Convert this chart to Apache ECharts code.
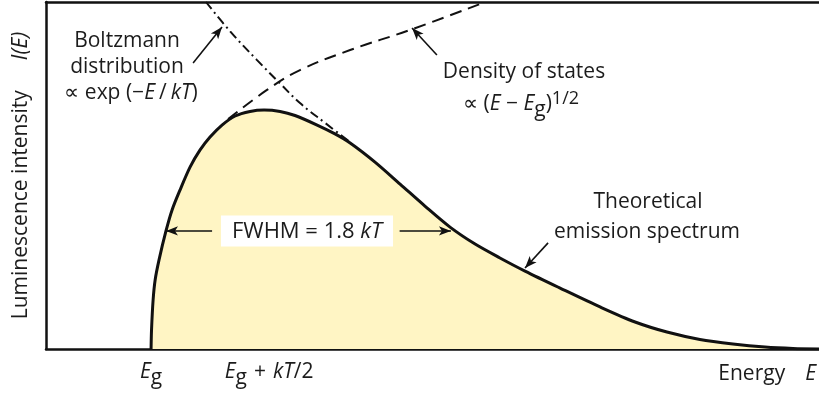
<!DOCTYPE html>
<html>
<head>
<meta charset="utf-8">
<script src="https://cdn.jsdelivr.net/npm/echarts@6/dist/echarts.min.js"></script>
<style>
  html, body { margin: 0; padding: 0; background: #fff; }
  #chart { width: 819px; height: 396px; }
</style>
</head>
<body>
<div id="chart"></div>
<script>
// Energy in units where E_g = 2 and kT = 1; intensity normalised to the peak.
const energy = [2.000, 2.002, 2.009, 2.018, 2.035, 2.066, 2.093, 2.128, 2.173, 2.217,
                2.261, 2.314, 2.372, 2.438, 2.500, 2.571, 2.637, 2.735, 2.814, 2.881,
                2.991, 3.102, 3.212, 3.323, 3.434, 3.544, 3.655, 3.810, 3.987, 4.142,
                4.283, 4.429, 4.575, 4.717, 4.841, 4.956];
const intensity = [0.000, 0.079, 0.205, 0.289, 0.372, 0.494, 0.582, 0.665, 0.762, 0.833,
                   0.887, 0.937, 0.975, 0.994, 1.000, 0.994, 0.977, 0.937, 0.900, 0.862,
                   0.782, 0.690, 0.598, 0.510, 0.439, 0.381, 0.326, 0.255, 0.176, 0.113,
                   0.071, 0.040, 0.021, 0.008, 0.002, 0.000];

// Density of states (dashed) and Boltzmann factor (dash-dot)
const dosEnergy = [2.341, 2.513, 2.659, 2.881, 3.146, 3.469];
const dosValue  = [0.962, 1.084, 1.167, 1.251, 1.335, 1.448];
const boltzEnergy = [2.243, 2.350, 2.469, 2.571, 2.659, 2.770, 2.881];
const boltzValue  = [1.452, 1.329, 1.209, 1.111, 1.029, 0.946, 0.866];

const Eg = 2.0;
const kT = 1.0;
const peakEnergy = Eg + kT / 2;
const peakIntensity = 1.0;
const tickValues = [Eg, peakEnergy];
const tickLabels = ['{e|E}{s|g}', '{lead|}{e|E}{s|g}{w|}{n|+}{w|}{e|kT}{n|/2}'];

// Half-maximum crossings of the emission curve
const halfMax = 0.494;
const fwhmLeft = 2.066;
const fwhmRight = 3.327;

// Annotation arrows: [fromEnergy, fromValue, toEnergy, toValue]
const arrows = [
  [2.186, 1.197, 2.314, 1.347],   // Boltzmann distribution
  [3.265, 1.230, 3.155, 1.343],   // density of states
  [3.757, 0.444, 3.655, 0.339],   // theoretical emission spectrum
  [2.270, halfMax, fwhmLeft, halfMax],
  [3.100, halfMax, fwhmRight, halfMax]
];

const FONT = '"Open Sans", "Noto Sans", sans-serif';
const FS = 21;
const INK = '#1c1c1c';
const LINE = '#111';

const zip = (xs, ys) => xs.map((x, i) => [x, ys[i]]);

// Rich-text styles: base text, italic symbols, subscript and superscript
function richStyles(base) {
  const t = { fontFamily: FONT, fontSize: FS, color: INK, verticalAlign: 'top' };
  return {
    n: Object.assign({}, t, { padding: [base, 0, 0, 0] }),
    e: Object.assign({}, t, { fontStyle: 'italic', padding: [base, 0, 0, 0] }),
    s: Object.assign({}, t, { padding: [base + 6, 0, 0, 0] }),
    p: Object.assign({}, t, { fontSize: 18, padding: [Math.max(base - 4, 0), 0, 0, 0] }),
    gap: { width: 20 },
    w: { width: 7 },
    t: { width: 4 },
    lead: { width: 10 }
  };
}

function label(x, y, text, align, vAlign) {
  return {
    type: 'text', x: x, y: y, z: 100,
    style: {
      text: text, fill: INK, fontFamily: FONT, fontSize: FS,
      align: align || 'center', verticalAlign: vAlign || 'middle',
      rich: richStyles(6)
    }
  };
}

const chart = echarts.init(document.getElementById('chart'), null, { renderer: 'canvas' });

chart.setOption({
  animation: false,
  grid: { left: 46, right: 0, top: 2, bottom: 47 },
  xAxis: [{
    type: 'value', min: 1.535, max: 4.956,
    axisLine: { lineStyle: { color: LINE, width: 2.5 } },
    axisTick: { show: true, inside: true, length: 10, customValues: tickValues,
                lineStyle: { color: LINE, width: 3 } },
    axisLabel: {
      show: true, margin: 13, customValues: tickValues,
      formatter: v => tickLabels[tickValues.indexOf(v)],
      rich: richStyles(0)
    },
    splitLine: { show: false }
  }, {
    type: 'value', position: 'top', min: 1.535, max: 4.956,
    axisLine: { show: true, lineStyle: { color: LINE, width: 2.5 } },
    axisTick: { show: false }, axisLabel: { show: false }, splitLine: { show: false }
  }],
  yAxis: {
    type: 'value', min: 0, max: 1.452,
    axisLine: { show: true, lineStyle: { color: LINE, width: 2.5 } },
    axisTick: { show: false }, axisLabel: { show: false }, splitLine: { show: false },
    name: 'Luminescence intensity{gap|}{e|I(E)}',
    nameLocation: 'middle', nameGap: 14,
    nameTextStyle: {
      fontFamily: FONT, fontSize: FS, color: INK,
      rich: {
        gap: { width: 30 },
        e: { fontFamily: FONT, fontSize: FS, color: INK, fontStyle: 'italic' }
      }
    }
  },
  series: [
    {
      name: 'Theoretical emission spectrum', type: 'line',
      data: zip(energy, intensity), smooth: 0.3, symbol: 'none', z: 3,
      lineStyle: { color: LINE, width: 3 },
      areaStyle: { color: '#fff5c4', opacity: 1 }
    },
    {
      name: 'Peak', type: 'line',
      data: [[peakEnergy, 0], [peakEnergy, peakIntensity]], symbol: 'none', z: 2,
      lineStyle: { color: LINE, width: 2.2, type: [8, 6] },
      markLine: {
        silent: true, symbol: ['none', 'arrow'], symbolSize: [7, 12],
        label: { show: false },
        lineStyle: { color: LINE, width: 1.6, type: 'solid' },
        data: arrows.map(a => [{ coord: [a[0], a[1]] }, { coord: [a[2], a[3]] }])
      }
    },
    {
      name: 'Density of states', type: 'line',
      data: zip(dosEnergy, dosValue), smooth: 0.4, symbol: 'none', z: 2,
      lineStyle: { color: LINE, width: 2, type: [12, 7] }
    },
    {
      name: 'Boltzmann distribution', type: 'line',
      data: zip(boltzEnergy, boltzValue), smooth: 0.4, symbol: 'none', z: 2,
      lineStyle: { color: LINE, width: 2, type: [9, 4, 2, 4] }
    }
  ],
  graphic: [
    label(127, 41, 'Boltzmann'),
    label(127, 67, 'distribution'),
    label(131, 77, '{n|∝ exp (−}{e|E}{t|}{n|/}{t|}{e|kT}{n|)}', 'center', 'top'),
    label(524, 72, 'Density of states'),
    label(521, 88, '{n|∝ (}{e|E}{n| − }{e|E}{s|g}{n|)}{p|1/2}', 'center', 'top'),
    label(648, 202, 'Theoretical'),
    label(647, 232, 'emission spectrum'),
    {
      type: 'text', x: 307, y: 231, z: 100,
      style: {
        text: '{n|FWHM = 1.8 }{e|kT}', fill: INK, fontFamily: FONT, fontSize: 22,
        align: 'center', verticalAlign: 'middle',
        backgroundColor: '#fff', padding: [5, 11, 4, 11],
        rich: {
          n: { fontFamily: FONT, fontSize: 22, color: INK },
          e: { fontFamily: FONT, fontSize: 22, color: INK, fontStyle: 'italic' }
        }
      }
    },
    label(816, 358, '{n|Energy}{gap|}{e|E}', 'right', 'top')
  ]
});
</script>
</body>
</html>
